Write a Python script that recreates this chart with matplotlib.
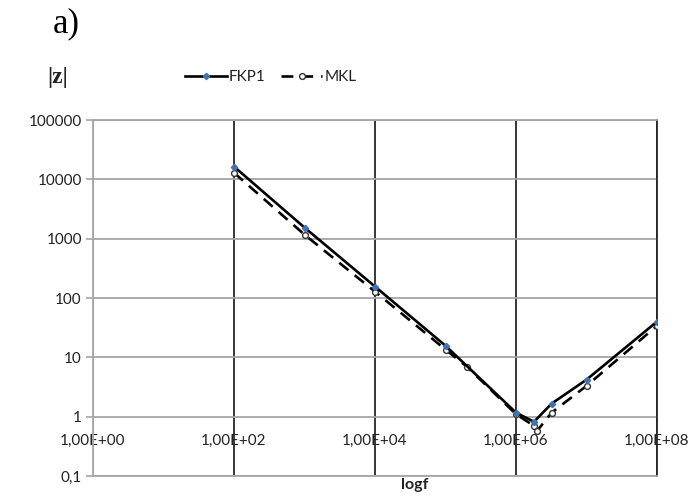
import matplotlib
matplotlib.use('Agg')
import matplotlib.pyplot as plt
from matplotlib.ticker import FixedLocator, NullLocator

# --- data ---
fkp1_f = [1e2, 1e3, 1e4, 1e5, 1e6, 1.8e6, 3.2e6, 1e7, 1e8]
fkp1_z = [16400, 1540, 156, 15.7, 1.17, 0.82, 1.66, 4.2, 40]

mkl_f = [1e2, 1e3, 1e4, 1e5, 2e5, 1e6, 1.8e6, 2e6, 3.2e6, 1e7, 1e8]
mkl_z = [12900, 1170, 128, 13.5, 7.0, 1.1, 0.7, 0.58, 1.17, 3.3, 34]

x_ticks = [1e0, 1e2, 1e4, 1e6, 1e8]
x_labels = ["1,00E+00", "1,00E+02", "1,00E+04", "1,00E+06", "1,00E+08"]
y_ticks = [0.1, 1, 10, 100, 1000, 10000, 100000]
y_labels = ["0,1", "1", "10", "100", "1000", "10000", "100000"]

GRAY = '#a6a6a6'
TXT = '#222222'
FS = 11
plt.rcParams['font.family'] = ['Lato', 'DejaVu Sans']

fig = plt.figure(figsize=(6.97, 4.97), dpi=100)
ax = fig.add_axes([93 / 697, 1 - 476 / 497, (657 - 93) / 697, (476 - 120) / 497])

ax.plot(fkp1_f, fkp1_z, color='black', lw=1.9, marker='D', ms=3.2,
        mfc='#3f73b4', mec='#3f73b4', label='FKP1', zorder=4)
ax.plot(mkl_f, mkl_z, color='black', lw=1.9, ls=(0, (4.5, 3)), marker='o', ms=4.2,
        mfc='white', mec='#333333', mew=1.0, label='MKL', zorder=3)

ax.set_xscale('log')
ax.set_yscale('log')
ax.set_xlim(1, 1e8)
ax.set_ylim(0.1, 1e5)

ax.xaxis.set_major_locator(FixedLocator(x_ticks))
ax.xaxis.set_minor_locator(NullLocator())
ax.set_xticklabels(x_labels)
ax.yaxis.set_major_locator(FixedLocator(y_ticks))
ax.yaxis.set_minor_locator(NullLocator())
ax.set_yticklabels(y_labels)

ax.set_axisbelow(True)
ax.grid(True, axis='x', color='#262626', lw=1.3)
ax.grid(True, axis='y', color=GRAY, lw=1.3)
ax.xaxis.get_major_ticks()[0].gridline.set_color(GRAY)

# x labels sit inside the plot, just under the y=1 line (Excel style)
ax.tick_params(axis='x', length=0, pad=-30, labelsize=FS, labelcolor=TXT)
ax.tick_params(axis='y', length=5, width=1.2, color=GRAY, pad=3, labelsize=FS, labelcolor=TXT)

for side in ['left', 'bottom', 'top']:
    ax.spines[side].set_color(GRAY)
    ax.spines[side].set_linewidth(1.3)
ax.spines['right'].set_color('#262626')
ax.spines['right'].set_linewidth(1.3)

fig.text(415 / 697, 1 - 485 / 497, 'logf', ha='center', va='center',
         fontsize=11.5, fontweight='bold', color=TXT)
fig.text(66 / 697, 1 - 24 / 497, 'a)', ha='center', va='center',
         fontsize=25, family='Liberation Serif', color='black')
fig.text(58 / 697, 1 - 77 / 497, '|z|', ha='center', va='center',
         fontsize=17, family='Liberation Serif', fontweight='bold', color='#222222')

fig.legend(loc='center', bbox_to_anchor=(271 / 697, 1 - 77 / 497), ncol=2,
           frameon=False, fontsize=FS, handlelength=2.7, handletextpad=0.15,
           columnspacing=1.0, labelcolor=TXT)

fig.savefig('out.png', dpi=100)
